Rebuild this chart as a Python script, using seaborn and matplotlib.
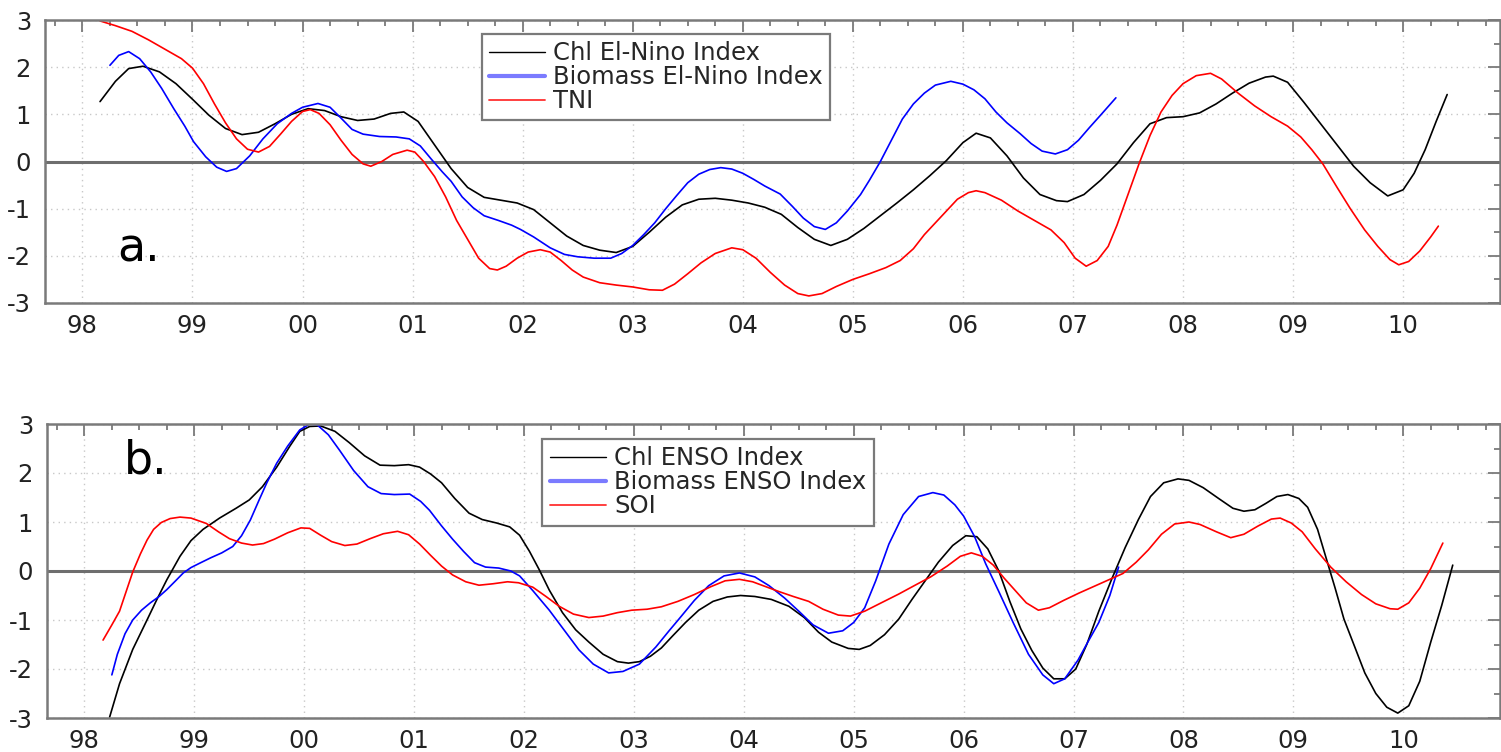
import numpy as np
import pandas as pd
import matplotlib
matplotlib.use("Agg")
import matplotlib.pyplot as plt
from matplotlib.ticker import MultipleLocator, FixedLocator, FixedFormatter
from matplotlib.lines import Line2D
import seaborn as sns

# ---------------- panel a: El-Nino indices ----------------
chl_nino_t = [1998.16, 1998.30, 1998.42, 1998.55, 1998.70, 1998.85, 1999.00, 1999.15, 1999.30,
              1999.45, 1999.60, 1999.75, 1999.90, 2000.05, 2000.20, 2000.35, 2000.50, 2000.65,
              2000.80, 2000.92, 2001.05, 2001.20, 2001.35, 2001.50, 2001.65, 2001.80, 2001.95,
              2002.10, 2002.25, 2002.40, 2002.55, 2002.70, 2002.85, 2003.00, 2003.15, 2003.30,
              2003.45, 2003.60, 2003.75, 2003.90, 2004.05, 2004.20, 2004.35, 2004.50, 2004.65,
              2004.80, 2004.95, 2005.10, 2005.25, 2005.40, 2005.55, 2005.70, 2005.85, 2006.00,
              2006.12, 2006.25, 2006.40, 2006.55, 2006.70, 2006.85, 2006.95, 2007.10, 2007.25,
              2007.40, 2007.55, 2007.70, 2007.85, 2008.00, 2008.15, 2008.30, 2008.45, 2008.60,
              2008.75, 2008.82, 2008.95, 2009.10, 2009.25, 2009.40, 2009.55, 2009.70, 2009.86,
              2010.00, 2010.10, 2010.20, 2010.30, 2010.40]
chl_nino_v = [1.27, 1.70, 1.97, 2.02, 1.90, 1.65, 1.32, 0.98, 0.70,
              0.57, 0.62, 0.80, 1.00, 1.12, 1.08, 0.95, 0.87, 0.90,
              1.02, 1.05, 0.85, 0.35, -0.15, -0.55, -0.76, -0.82, -0.88,
              -1.02, -1.30, -1.58, -1.78, -1.88, -1.93, -1.80, -1.50, -1.18,
              -0.92, -0.80, -0.78, -0.82, -0.88, -0.97, -1.12, -1.40, -1.65,
              -1.78, -1.65, -1.42, -1.15, -0.88, -0.60, -0.30, 0.02, 0.40,
              0.60, 0.50, 0.12, -0.35, -0.70, -0.83, -0.85, -0.70, -0.40,
              -0.05, 0.40, 0.80, 0.93, 0.95, 1.03, 1.22, 1.45, 1.66,
              1.79, 1.81, 1.68, 1.25, 0.80, 0.35, -0.10, -0.45, -0.73,
              -0.60, -0.25, 0.25, 0.85, 1.42]

bio_nino_t = [1998.25, 1998.33, 1998.42, 1998.52, 1998.62, 1998.72, 1998.83, 1998.93, 1999.01,
              1999.12, 1999.22, 1999.31, 1999.40, 1999.52, 1999.64, 1999.77, 1999.90, 2000.00,
              2000.14, 2000.25, 2000.35, 2000.45, 2000.55, 2000.70, 2000.85, 2000.97, 2001.07,
              2001.17, 2001.27, 2001.35, 2001.45, 2001.55, 2001.65, 2001.78, 2001.90, 2001.98,
              2002.10, 2002.25, 2002.38, 2002.50, 2002.65, 2002.80, 2002.90, 2003.00, 2003.10,
              2003.20, 2003.30, 2003.40, 2003.50, 2003.60, 2003.70, 2003.80, 2003.90, 2004.00,
              2004.10, 2004.20, 2004.34, 2004.45, 2004.55, 2004.65, 2004.75, 2004.85, 2004.95,
              2005.07, 2005.15, 2005.25, 2005.35, 2005.45, 2005.55, 2005.65, 2005.75, 2005.89,
              2006.00, 2006.10, 2006.20, 2006.30, 2006.40, 2006.52, 2006.62, 2006.72, 2006.84,
              2006.95, 2007.05, 2007.15, 2007.25, 2007.39]
bio_nino_v = [2.04, 2.25, 2.33, 2.18, 1.90, 1.55, 1.12, 0.75, 0.42,
              0.10, -0.12, -0.21, -0.15, 0.12, 0.48, 0.80, 1.02, 1.15,
              1.23, 1.15, 0.92, 0.68, 0.58, 0.53, 0.52, 0.48, 0.33,
              0.05, -0.22, -0.42, -0.75, -0.98, -1.15, -1.25, -1.35, -1.44,
              -1.60, -1.83, -1.97, -2.02, -2.05, -2.05, -1.95, -1.78, -1.55,
              -1.30, -1.00, -0.72, -0.45, -0.27, -0.17, -0.13, -0.16, -0.25,
              -0.38, -0.52, -0.69, -0.95, -1.20, -1.38, -1.44, -1.30, -1.05,
              -0.70, -0.40, 0.00, 0.45, 0.90, 1.22, 1.45, 1.62, 1.70,
              1.64, 1.52, 1.33, 1.05, 0.82, 0.59, 0.38, 0.22, 0.16,
              0.25, 0.45, 0.72, 0.98, 1.35]

tni_t = [1998.16, 1998.30, 1998.45, 1998.60, 1998.75, 1998.90, 1999.00, 1999.10, 1999.20,
         1999.30, 1999.40, 1999.50, 1999.60, 1999.70, 1999.80, 1999.90, 2000.00, 2000.07,
         2000.15, 2000.25, 2000.35, 2000.45, 2000.55, 2000.62, 2000.72, 2000.82, 2000.95,
         2001.02, 2001.10, 2001.20, 2001.30, 2001.40, 2001.50, 2001.60, 2001.70, 2001.77,
         2001.85, 2001.95, 2002.05, 2002.16, 2002.25, 2002.35, 2002.45, 2002.55, 2002.70,
         2002.85, 2003.00, 2003.15, 2003.27, 2003.38, 2003.50, 2003.62, 2003.75, 2003.90,
         2004.00, 2004.12, 2004.25, 2004.38, 2004.50, 2004.60, 2004.72, 2004.85, 2005.00,
         2005.15, 2005.30, 2005.43, 2005.55, 2005.65, 2005.75, 2005.85, 2005.95, 2006.05,
         2006.12, 2006.20, 2006.35, 2006.50, 2006.65, 2006.80, 2006.92, 2007.02, 2007.12,
         2007.22, 2007.32, 2007.40, 2007.50, 2007.60, 2007.70, 2007.80, 2007.90, 2008.00,
         2008.12, 2008.25, 2008.35, 2008.50, 2008.65, 2008.80, 2008.95, 2009.07, 2009.17,
         2009.27, 2009.40, 2009.52, 2009.65, 2009.77, 2009.88, 2009.96, 2010.05, 2010.15,
         2010.25, 2010.32]
tni_v = [2.98, 2.88, 2.76, 2.58, 2.38, 2.18, 1.98, 1.65, 1.22,
         0.82, 0.48, 0.26, 0.20, 0.32, 0.58, 0.85, 1.06, 1.10,
         1.02, 0.78, 0.45, 0.15, -0.05, -0.10, 0.00, 0.15, 0.24,
         0.20, 0.00, -0.32, -0.75, -1.25, -1.65, -2.05, -2.27, -2.30,
         -2.22, -2.05, -1.92, -1.87, -1.92, -2.10, -2.30, -2.45, -2.57,
         -2.62, -2.66, -2.72, -2.73, -2.60, -2.38, -2.15, -1.95, -1.83,
         -1.87, -2.05, -2.35, -2.62, -2.80, -2.85, -2.80, -2.65, -2.50,
         -2.38, -2.25, -2.10, -1.85, -1.55, -1.30, -1.05, -0.80, -0.66,
         -0.62, -0.66, -0.82, -1.05, -1.25, -1.45, -1.72, -2.05, -2.22,
         -2.10, -1.80, -1.35, -0.70, -0.05, 0.55, 1.05, 1.40, 1.65,
         1.82, 1.87, 1.75, 1.45, 1.18, 0.95, 0.75, 0.52, 0.25,
         -0.05, -0.55, -1.00, -1.45, -1.80, -2.08, -2.19, -2.12, -1.90,
         -1.60, -1.37]

# ---------------- panel b: ENSO indices ----------------
chl_enso_t = [1998.23, 1998.32, 1998.44, 1998.57, 1998.66, 1998.75, 1998.87, 1998.97, 1999.08,
              1999.23, 1999.38, 1999.50, 1999.62, 1999.75, 1999.87, 1999.96, 2000.05, 2000.15,
              2000.28, 2000.41, 2000.55, 2000.69, 2000.82, 2000.95, 2001.05, 2001.15, 2001.25,
              2001.37, 2001.50, 2001.62, 2001.75, 2001.87, 2001.96, 2002.05, 2002.14, 2002.23,
              2002.35, 2002.47, 2002.59, 2002.72, 2002.85, 2002.95, 2003.05, 2003.15, 2003.25,
              2003.35, 2003.47, 2003.59, 2003.72, 2003.85, 2003.97, 2004.10, 2004.25, 2004.41,
              2004.55, 2004.68, 2004.80, 2004.95, 2005.05, 2005.15, 2005.28, 2005.41, 2005.53,
              2005.65, 2005.77, 2005.90, 2006.02, 2006.12, 2006.22, 2006.32, 2006.42, 2006.52,
              2006.62, 2006.72, 2006.82, 2006.92, 2007.02, 2007.12, 2007.23, 2007.35, 2007.47,
              2007.59, 2007.70, 2007.82, 2007.95, 2008.05, 2008.18, 2008.32, 2008.45, 2008.55,
              2008.65, 2008.75, 2008.85, 2008.95, 2009.05, 2009.13, 2009.22, 2009.30, 2009.38,
              2009.46, 2009.55, 2009.65, 2009.75, 2009.85, 2009.95, 2010.05, 2010.15, 2010.25,
              2010.35, 2010.45]
chl_enso_v = [-2.98, -2.30, -1.60, -1.00, -0.58, -0.18, 0.30, 0.62, 0.85,
              1.08, 1.28, 1.45, 1.72, 2.12, 2.55, 2.85, 2.95, 2.96,
              2.85, 2.62, 2.35, 2.16, 2.15, 2.17, 2.12, 1.98, 1.80,
              1.48, 1.18, 1.05, 0.98, 0.90, 0.73, 0.40, 0.02, -0.39,
              -0.85, -1.20, -1.45, -1.70, -1.85, -1.88, -1.85, -1.74, -1.57,
              -1.33, -1.05, -0.80, -0.62, -0.53, -0.50, -0.52, -0.58, -0.72,
              -0.95, -1.25, -1.45, -1.58, -1.60, -1.52, -1.30, -0.98, -0.58,
              -0.20, 0.18, 0.52, 0.72, 0.70, 0.45, 0.00, -0.62, -1.18,
              -1.62, -1.98, -2.20, -2.20, -2.00, -1.50, -0.82, -0.15, 0.48,
              1.05, 1.52, 1.80, 1.88, 1.85, 1.70, 1.48, 1.28, 1.22,
              1.25, 1.38, 1.52, 1.56, 1.48, 1.30, 0.85, 0.25, -0.35,
              -0.98, -1.50, -2.08, -2.50, -2.78, -2.90, -2.75, -2.25, -1.45,
              -0.70, 0.12]

bio_enso_t = [1998.25, 1998.30, 1998.37, 1998.44, 1998.52, 1998.60, 1998.68, 1998.75, 1998.83,
              1998.90, 1998.97, 1999.05, 1999.15, 1999.25, 1999.35, 1999.43, 1999.51, 1999.59,
              1999.66, 1999.75, 1999.85, 1999.96, 2000.05, 2000.12, 2000.22, 2000.32, 2000.45,
              2000.58, 2000.70, 2000.82, 2000.96, 2001.06, 2001.14, 2001.25, 2001.35, 2001.45,
              2001.55, 2001.65, 2001.77, 2001.88, 2001.96, 2002.08, 2002.23, 2002.37, 2002.50,
              2002.63, 2002.77, 2002.90, 2003.05, 2003.20, 2003.32, 2003.41, 2003.55, 2003.68,
              2003.82, 2003.96, 2004.10, 2004.23, 2004.37, 2004.50, 2004.63, 2004.77, 2004.90,
              2005.00, 2005.10, 2005.20, 2005.32, 2005.45, 2005.59, 2005.72, 2005.82, 2005.92,
              2006.00, 2006.10, 2006.20, 2006.32, 2006.45, 2006.59, 2006.72, 2006.82, 2006.92,
              2007.04, 2007.13, 2007.23, 2007.33, 2007.41]
bio_enso_v = [-2.12, -1.70, -1.28, -1.00, -0.80, -0.65, -0.52, -0.38, -0.20,
              -0.04, 0.07, 0.16, 0.27, 0.37, 0.50, 0.72, 1.04, 1.45,
              1.80, 2.20, 2.55, 2.88, 3.00, 2.98, 2.78, 2.47, 2.05,
              1.72, 1.58, 1.56, 1.57, 1.42, 1.24, 0.92, 0.65, 0.40,
              0.17, 0.08, 0.06, 0.00, -0.10, -0.40, -0.80, -1.22, -1.61,
              -1.90, -2.08, -2.05, -1.90, -1.55, -1.22, -0.98, -0.60, -0.30,
              -0.10, -0.04, -0.12, -0.30, -0.55, -0.82, -1.10, -1.27, -1.22,
              -1.05, -0.75, -0.20, 0.55, 1.15, 1.52, 1.60, 1.55, 1.35,
              1.12, 0.70, 0.15, -0.42, -1.05, -1.70, -2.12, -2.30, -2.20,
              -1.82, -1.45, -1.05, -0.50, 0.08]

soi_t = [1998.17, 1998.25, 1998.32, 1998.38, 1998.44, 1998.51, 1998.57, 1998.63, 1998.70,
         1998.78, 1998.87, 1998.97, 1999.11, 1999.22, 1999.32, 1999.43, 1999.53, 1999.63,
         1999.73, 1999.85, 1999.97, 2000.05, 2000.15, 2000.25, 2000.37, 2000.48, 2000.60,
         2000.72, 2000.85, 2000.95, 2001.05, 2001.15, 2001.25, 2001.35, 2001.47, 2001.59,
         2001.72, 2001.85, 2001.95, 2002.08, 2002.20, 2002.32, 2002.45, 2002.59, 2002.72,
         2002.85, 2002.98, 2003.12, 2003.25, 2003.40, 2003.55, 2003.70, 2003.83, 2003.96,
         2004.08, 2004.20, 2004.32, 2004.45, 2004.59, 2004.72, 2004.86, 2004.97, 2005.10,
         2005.25, 2005.41, 2005.55, 2005.70, 2005.85, 2005.97, 2006.07, 2006.17, 2006.27,
         2006.37, 2006.47, 2006.57, 2006.68, 2006.78, 2006.91, 2007.05, 2007.20, 2007.33,
         2007.45, 2007.57, 2007.68, 2007.80, 2007.92, 2008.05, 2008.15, 2008.30, 2008.43,
         2008.55, 2008.68, 2008.80, 2008.88, 2008.98, 2009.08, 2009.20, 2009.34, 2009.48,
         2009.62, 2009.75, 2009.88, 2009.95, 2010.05, 2010.15, 2010.25, 2010.36]
soi_v = [-1.41, -1.10, -0.82, -0.42, -0.02, 0.35, 0.63, 0.85, 0.99,
         1.07, 1.10, 1.08, 0.97, 0.80, 0.66, 0.57, 0.53, 0.56,
         0.65, 0.78, 0.88, 0.87, 0.73, 0.60, 0.52, 0.55, 0.66,
         0.76, 0.81, 0.74, 0.55, 0.32, 0.10, -0.08, -0.22, -0.29,
         -0.26, -0.22, -0.24, -0.33, -0.52, -0.72, -0.88, -0.95, -0.92,
         -0.85, -0.80, -0.78, -0.73, -0.62, -0.48, -0.32, -0.20, -0.17,
         -0.22, -0.32, -0.42, -0.52, -0.62, -0.78, -0.90, -0.92, -0.82,
         -0.65, -0.47, -0.30, -0.12, 0.10, 0.30, 0.37, 0.30, 0.12,
         -0.15, -0.40, -0.65, -0.80, -0.75, -0.60, -0.45, -0.30, -0.17,
         -0.05, 0.18, 0.43, 0.75, 0.96, 1.00, 0.95, 0.80, 0.68,
         0.75, 0.92, 1.06, 1.08, 0.98, 0.80, 0.45, 0.08, -0.22,
         -0.48, -0.67, -0.77, -0.78, -0.65, -0.35, 0.05, 0.57]

year_ticks = list(range(1998, 2011))
year_labels = ["98", "99", "00", "01", "02", "03", "04", "05", "06", "07", "08", "09", "10"]

panel_a = [("Chl El-Nino Index", chl_nino_t, chl_nino_v, "black"),
           ("Biomass El-Nino Index", bio_nino_t, bio_nino_v, "#0000ff"),
           ("TNI", tni_t, tni_v, "#ff0000")]
panel_b = [("Chl ENSO Index", chl_enso_t, chl_enso_v, "black"),
           ("Biomass ENSO Index", bio_enso_t, bio_enso_v, "#0000ff"),
           ("SOI", soi_t, soi_v, "#ff0000")]

sns.set_theme(style="white")
plt.rcParams["font.family"] = ["DejaVu Sans"]
plt.rcParams["axes.unicode_minus"] = False

W, H = 1501, 752
fig = plt.figure(figsize=(W / 100, H / 100), dpi=100)

FRAME = "#7a7a7a"


def px_axes(left, top, right, bottom):
    return fig.add_axes([left / W, 1 - bottom / H, (right - left) / W, (bottom - top) / H])


def style_axes(ax, series, legend_anchor, letter, letter_xy):
    for name, t, v, col in series:
        df = pd.DataFrame({"year": t, "value": v})
        sns.lineplot(data=df, x="year", y="value", color=col, lw=1.2,
                     sort=False, estimator=None, ax=ax, label=None)
    ax.axhline(0, color="#6e6e6e", lw=2.2, zorder=1)
    ax.set_xlim(1997.66, 2010.88)
    ax.set_ylim(-3, 3)
    ax.xaxis.set_major_locator(FixedLocator(year_ticks))
    ax.xaxis.set_major_formatter(FixedFormatter(year_labels))
    ax.xaxis.set_minor_locator(MultipleLocator(0.25))
    ax.yaxis.set_major_locator(MultipleLocator(1))
    ax.yaxis.set_minor_locator(MultipleLocator(0.5))
    ax.set_xlabel("")
    ax.set_ylabel("")
    ax.grid(True, which="major", color="#c8c8c8", ls=(0, (1, 3)), lw=1.0)
    ax.tick_params(which="both", direction="in", top=True, right=True,
                   color=FRAME, width=1.3, labelsize=17.5, labelcolor="#222222")
    ax.tick_params(which="major", length=8.5)
    ax.tick_params(which="minor", length=4.5)
    ax.tick_params(axis="y", which="major", pad=10)
    ax.tick_params(axis="x", which="major", pad=8)
    for sp in ax.spines.values():
        sp.set_color(FRAME)
        sp.set_linewidth(1.8)
    handles = [Line2D([], [], color="black", lw=1.0),
               Line2D([], [], color="#7b7bff", lw=3.0),
               Line2D([], [], color="#ff3030", lw=1.3)]
    leg = ax.legend(handles, [s[0] for s in series], loc="upper left",
                    bbox_to_anchor=legend_anchor, borderaxespad=0, fontsize=17.5,
                    frameon=True, fancybox=False, framealpha=1, edgecolor=FRAME,
                    handlelength=2.3, handletextpad=0.35, labelspacing=0.0,
                    borderpad=0.3)
    leg.get_frame().set_linewidth(1.6)
    ax.text(letter_xy[0], letter_xy[1], letter, transform=ax.transAxes,
            fontsize=33, color="black", va="baseline", ha="left")


ax_a = px_axes(45, 20, 1500, 303)
style_axes(ax_a, panel_a, (0.300, 0.951), "a.", (0.050, 0.145))

ax_b = px_axes(47, 424, 1500, 718)
style_axes(ax_b, panel_b, (0.341, 0.949), "b.", (0.053, 0.83))

fig.savefig("out.png", dpi=100, facecolor="white")
